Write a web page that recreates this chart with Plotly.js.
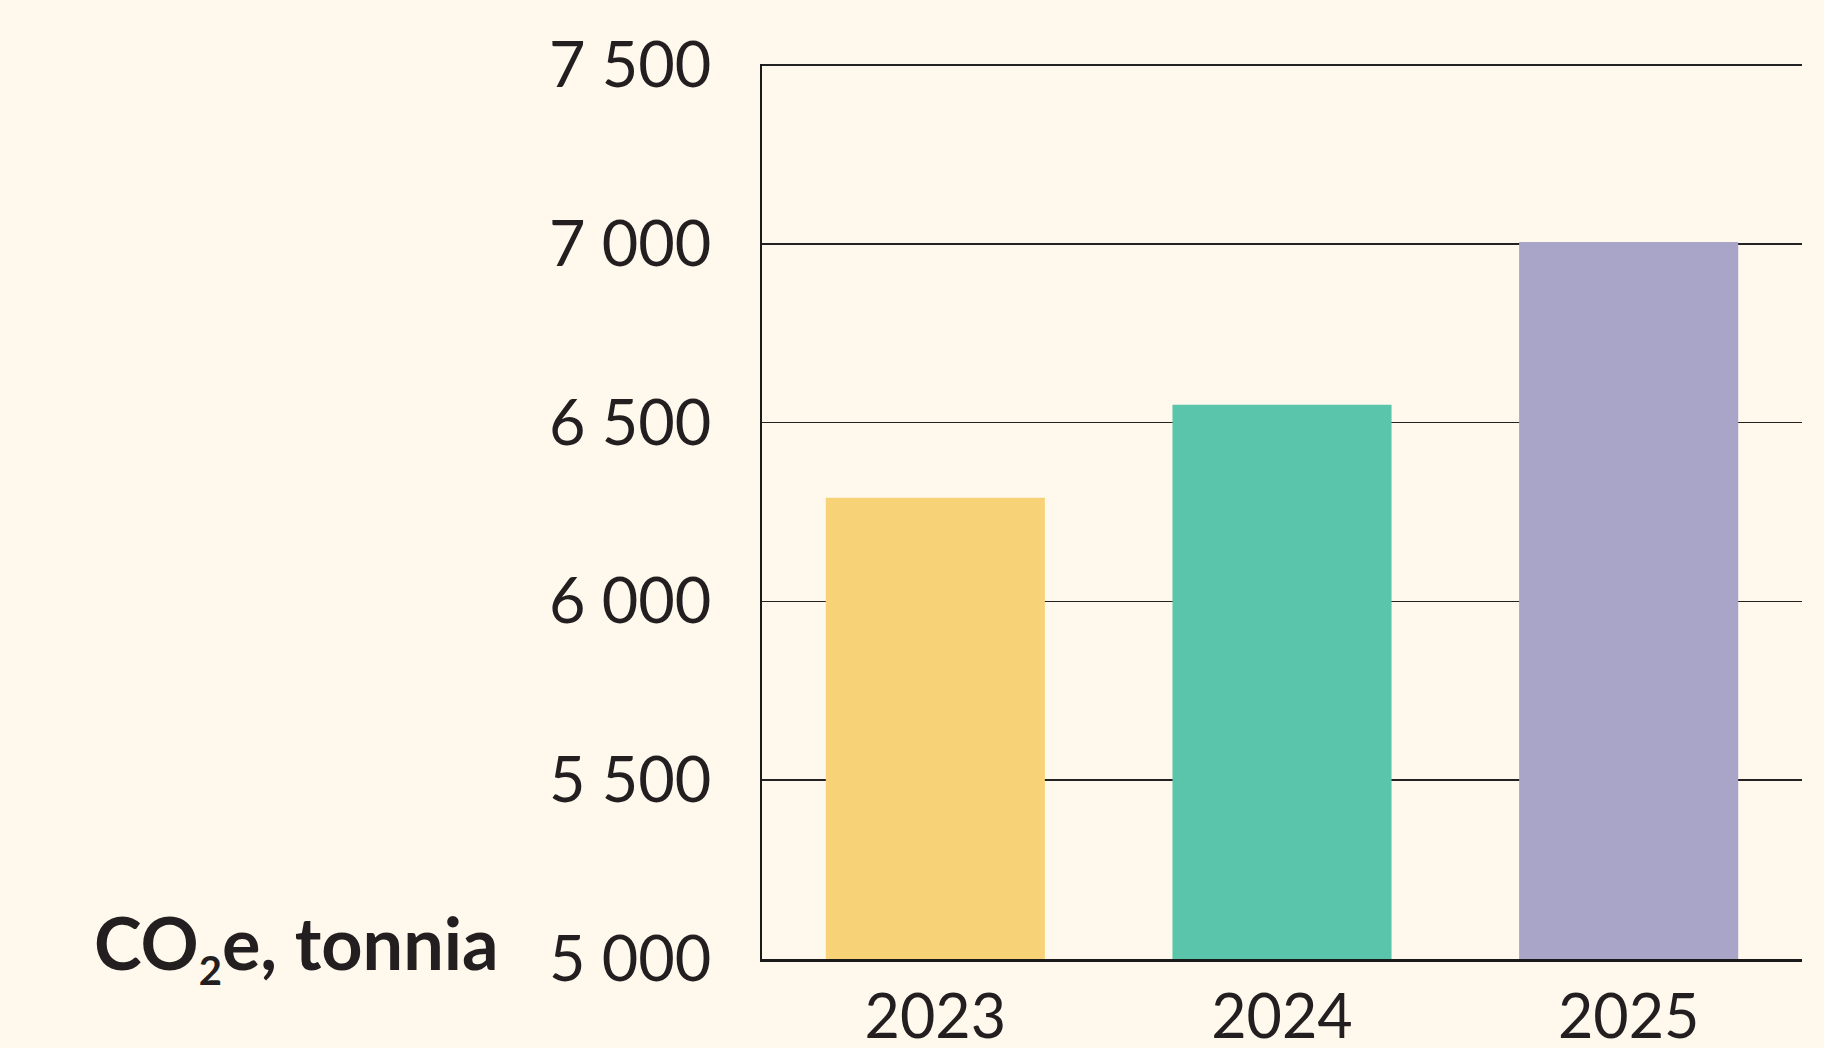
<!DOCTYPE html>
<html>
<head>
<meta charset="utf-8">
<script src="https://cdn.plot.ly/plotly-3.0.1.min.js"></script>
<style>
  html, body { margin: 0; padding: 0; background: #FEF9EC; }
  #chart { width: 1824px; height: 1048px; }
</style>
</head>
<body>
<div id="chart"></div>
<script>
const years = ['2023', '2024', '2025'];
const emissions = [6290, 6550, 7005];
const barColors = ['#F7D277', '#5BC5AC', '#A9A5C9'];
const yTickVals = [5000, 5500, 6000, 6500, 7000, 7500];
const yTickText = ['5 000', '5 500', '6 000', '6 500', '7 000', '7 500'];
const unitLabel = 'CO<sub><span style="font-size:40px">2</span></sub>e, tonnia';

const textColor = '#231F20';
const fontFamily = 'Lato, "Open Sans", sans-serif';

const data = [{
  type: 'bar',
  x: years,
  y: emissions,
  marker: { color: barColors, line: { width: 0 } },
  hoverinfo: 'skip'
}];

const layout = {
  width: 1824,
  height: 1048,
  paper_bgcolor: '#FEF9EC',
  plot_bgcolor: '#FEF9EC',
  margin: { l: 762, r: 22, t: 64, b: 89, pad: 0 },
  bargap: 0.368,
  showlegend: false,
  font: { family: fontFamily, color: textColor },
  xaxis: {
    type: 'category',
    showgrid: false,
    showline: true,
    linecolor: '#1a1a1a',
    linewidth: 2.5,
    ticks: '',
    tickfont: { size: 61, family: fontFamily, color: textColor },
    ticklabelstandoff: 3,
    zeroline: false
  },
  yaxis: {
    range: [5000, 7503],
    tickvals: yTickVals,
    ticktext: yTickText,
    showgrid: true,
    gridcolor: '#222222',
    gridwidth: 1.6,
    showline: true,
    linecolor: '#1a1a1a',
    linewidth: 2,
    ticks: '',
    ticklabelstandoff: 36,
    tickfont: { size: 63, family: fontFamily, color: textColor },
    zeroline: false
  },
  annotations: [{
    xref: 'paper', yref: 'paper',
    x: (92 - 762) / 1040, y: 0.014,
    xanchor: 'left', yanchor: 'middle',
    showarrow: false,
    text: '<b>' + unitLabel + '</b>',
    font: { size: 72, family: fontFamily, color: textColor }
  }]
};

Plotly.newPlot('chart', data, layout, { displayModeBar: false, staticPlot: true });
</script>
</body>
</html>
